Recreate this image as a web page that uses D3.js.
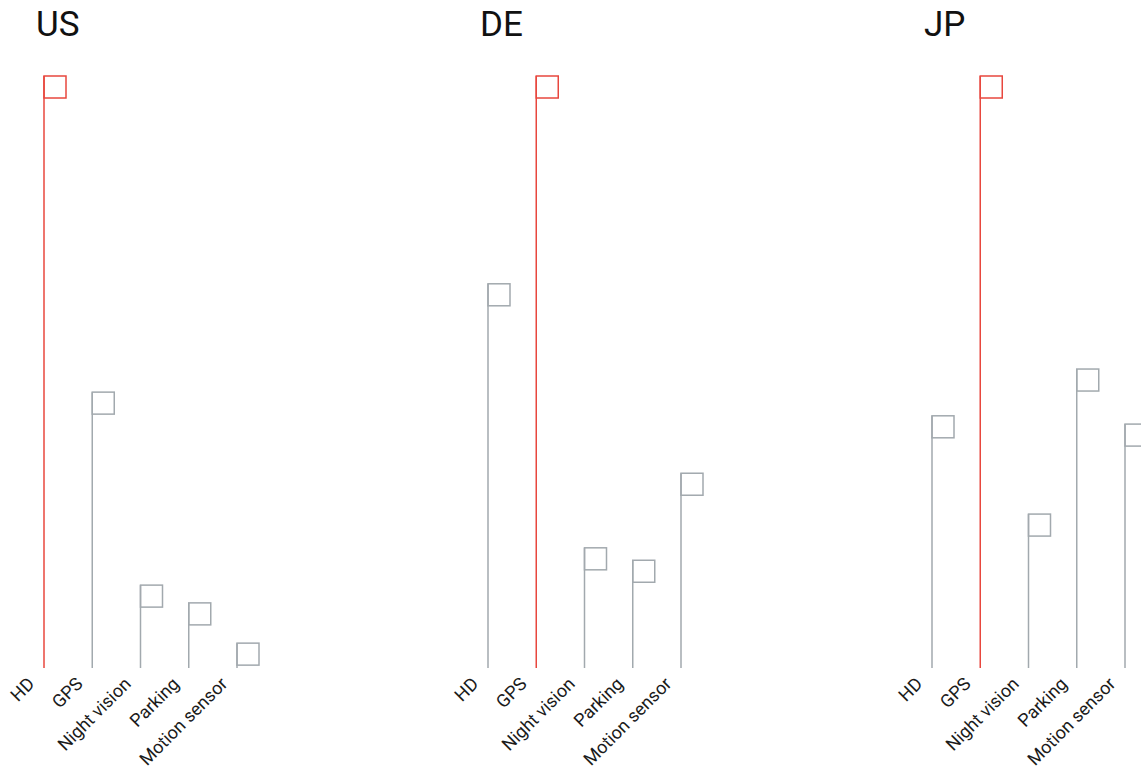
<!DOCTYPE html>
<html>
<head>
<meta charset="utf-8">
<script src="https://cdn.jsdelivr.net/npm/d3@7"></script>
<style>
  html, body { margin: 0; padding: 0; background: #fff; }
  svg { display: block; }
  text { font-family: Roboto, "Noto Sans", sans-serif; }
</style>
</head>
<body>
<svg id="chart" width="1141" height="775"></svg>
<script>
const countries = ["US", "DE", "JP"];
const features = ["HD", "GPS", "Night vision", "Parking", "Motion sensor"];
const usValues = [100, 46.6, 14.0, 11.0, 4.2];
const deValues = [64.9, 100, 20.3, 18.2, 32.9];
const jpValues = [42.6, 100, 26.0, 50.5, 41.2];
const seriesValues = [usValues, deValues, jpValues];

const panelLeft0 = 36, panelStep = 444;
const baseY = 668, topY = 76;
const flagW = 22, flagH = 22;
const red = "#e8473e", gray = "#a2a9ae";

const svg = d3.select("#chart");
const x = d3.scalePoint().domain(features).range([8, 201]);
const y = d3.scaleLinear().domain([0, 100]).range([baseY, topY]);

countries.forEach((c, i) => {
  const vals = seriesValues[i];
  const maxV = d3.max(vals);
  const g = svg.append("g").attr("transform", `translate(${panelLeft0 + i * panelStep},0)`);
  g.append("text").attr("x", 0).attr("y", 36)
    .attr("font-size", 35).attr("fill", "#111").text(c);

  const data = features.map((f, j) => ({ f, v: vals[j], max: vals[j] === maxV }));
  const item = g.selectAll("g.item").data(data).enter().append("g").attr("class", "item");
  item.append("line")
    .attr("x1", d => x(d.f)).attr("x2", d => x(d.f))
    .attr("y1", baseY).attr("y2", d => y(d.v))
    .attr("stroke", d => d.max ? red : gray).attr("stroke-width", 1.5);
  item.append("rect")
    .attr("x", d => x(d.f)).attr("y", d => y(d.v))
    .attr("width", flagW).attr("height", flagH)
    .attr("fill", "none")
    .attr("stroke", d => d.max ? red : gray).attr("stroke-width", 1.5);

  const axis = d3.axisBottom(x).tickSize(0).tickPadding(0);
  const ax = g.append("g").attr("transform", `translate(0,${baseY})`).call(axis)
    .attr("font-size", null).attr("font-family", null);
  ax.select(".domain").remove();
  ax.selectAll("text")
    .attr("font-size", 18)
    .attr("fill", "#1a1a1a")
    .attr("text-anchor", "end")
    .attr("x", 0).attr("y", 0).attr("dy", 0)
    .attr("transform", "translate(-9,17) rotate(-45)");
});
</script>
</body>
</html>
